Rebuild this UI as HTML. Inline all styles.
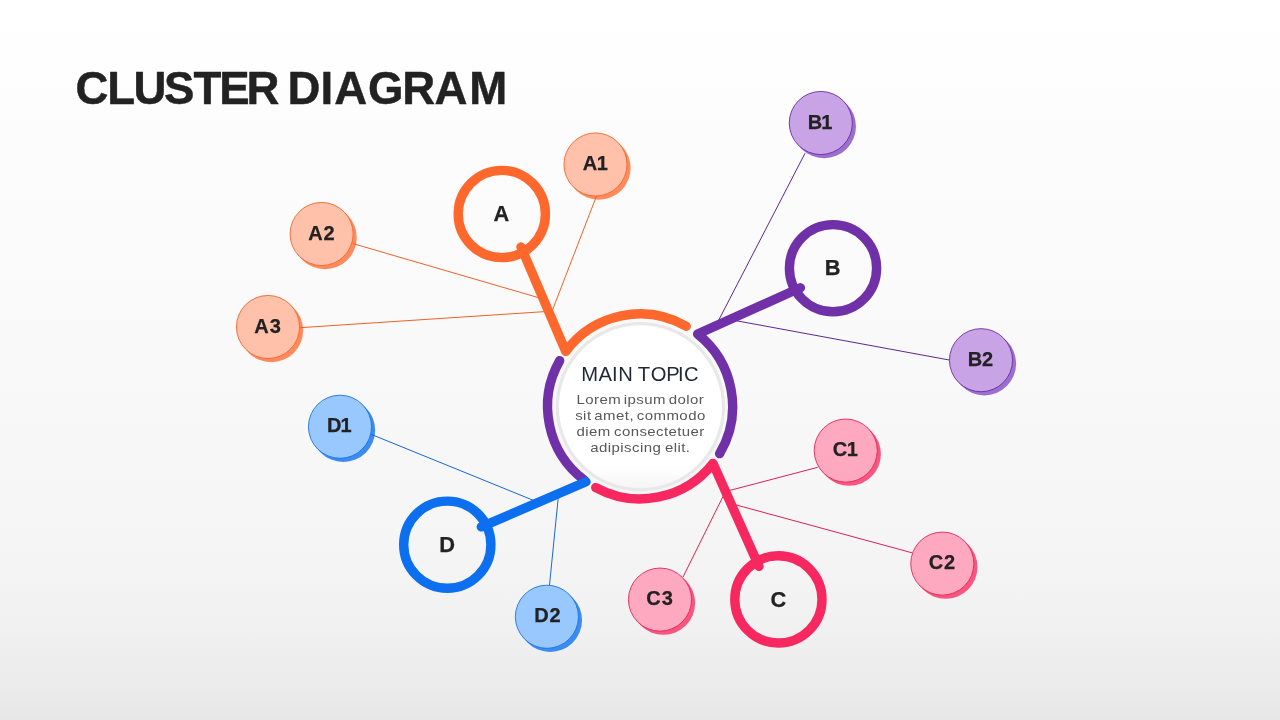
<!DOCTYPE html>
<html lang="en">
<head>
<meta charset="utf-8">
<title>Cluster Diagram</title>
<style>
html,body{margin:0;padding:0;}
body{width:1280px;height:720px;overflow:hidden;position:relative;
 background:linear-gradient(to bottom,#ffffff 0%,#ffffff 2%,#fdfdfd 14%,#fbfbfb 32%,#f9f9f9 50%,#f7f7f7 63%,#f5f5f5 75%,#f2f2f2 85%,#eeeeee 91%,#ebebeb 96%,#e7e7e7 100%);
 font-family:"Liberation Sans",sans-serif;}
svg{position:absolute;left:0;top:0;display:block;will-change:transform;}
svg text{font-family:"Liberation Sans",sans-serif;text-anchor:middle;font-kerning:none;}
.tt{font-size:45.6px;font-weight:700;fill:#222;stroke:#222;stroke-width:0.45px;stroke-linejoin:round;text-anchor:start;}
.nl{font-size:20px;font-weight:700;fill:#222;stroke:#222;stroke-width:0.25px;text-anchor:start;}
.rl{font-size:21.8px;font-weight:700;fill:#222;stroke:#222;stroke-width:0.25px;text-anchor:start;}
.mt{font-size:20.2px;fill:#1f2933;text-anchor:start;}
.bt{font-size:12.5px;fill:#585858;text-anchor:start;}
</style>
</head>
<body>
<svg width="1280" height="720" viewBox="0 0 1280 720" role="img" aria-label="Cluster diagram">
<defs><linearGradient id="dg" x1="0" y1="0" x2="0" y2="1"><stop offset="0" stop-color="#fff"/><stop offset="0.86" stop-color="#fff"/><stop offset="1" stop-color="#f4f4f4"/></linearGradient></defs>
<circle cx="598.8" cy="167.9" r="31.85" fill="#ff8a5c"/>
<circle cx="324.9" cy="237.4" r="31.85" fill="#ff8a5c"/>
<circle cx="271.3" cy="330.4" r="31.85" fill="#ff8a5c"/>
<circle cx="824.1" cy="126.4" r="31.85" fill="#9a6fd0"/>
<circle cx="984.3" cy="363.6" r="31.85" fill="#9a6fd0"/>
<circle cx="849.05" cy="454" r="31.85" fill="#f8557f"/>
<circle cx="945.6" cy="567" r="31.85" fill="#f8557f"/>
<circle cx="663.3" cy="603" r="31.85" fill="#f8557f"/>
<circle cx="343.3" cy="430.15" r="31.85" fill="#3b8cf0"/>
<circle cx="550.2" cy="620.15" r="31.85" fill="#3b8cf0"/>
<line x1="596.3" y1="196.5" x2="549.8" y2="317" stroke="#ee6128" stroke-width="1"/>
<line x1="353" y1="243.6" x2="539" y2="297.8" stroke="#ee6128" stroke-width="1"/>
<line x1="300" y1="327.7" x2="545" y2="311.6" stroke="#ee6128" stroke-width="1"/>
<line x1="805" y1="153.3" x2="717.5" y2="322.5" stroke="#5e2692" stroke-width="1"/>
<line x1="949.2" y1="360" x2="735" y2="320.5" stroke="#5e2692" stroke-width="1"/>
<line x1="817.75" y1="467.3" x2="728" y2="490.9" stroke="#dc2153" stroke-width="1"/>
<line x1="912" y1="552.8" x2="736" y2="504.9" stroke="#dc2153" stroke-width="1"/>
<line x1="683" y1="577" x2="724.5" y2="493.5" stroke="#dc2153" stroke-width="1"/>
<line x1="371.25" y1="434.4" x2="535" y2="501" stroke="#1468d6" stroke-width="1"/>
<line x1="549.5" y1="585" x2="558.3" y2="497" stroke="#1468d6" stroke-width="1"/>
<circle cx="640.4" cy="406.8" r="83.1" fill="url(#dg)" stroke="#e8e8e8" stroke-width="3.2"/>
<circle cx="501.8" cy="214.0" r="43.6" fill="none" stroke="#ff682c" stroke-width="9.4"/>
<path d="M521.00,247.00 L565.74,351.38 A92.5,92.5 0 0 1 686.21,326.21" fill="none" stroke="#ff682c" stroke-width="9.4" stroke-linecap="round" stroke-linejoin="round"/>
<circle cx="833.0" cy="268.2" r="43.6" fill="none" stroke="#7030a8" stroke-width="9.4"/>
<path d="M800.40,287.80 L697.68,334.01 A92.5,92.5 0 0 1 719.64,453.63" fill="none" stroke="#7030a8" stroke-width="9.4" stroke-linecap="round" stroke-linejoin="round"/>
<circle cx="778.4" cy="599.4" r="43.6" fill="none" stroke="#f7275f" stroke-width="9.4"/>
<path d="M759.00,566.40 L712.99,463.35 A92.5,92.5 0 0 1 595.82,487.61" fill="none" stroke="#f7275f" stroke-width="9.4" stroke-linecap="round" stroke-linejoin="round"/>
<circle cx="447.3" cy="544.7" r="43.6" fill="none" stroke="#0b6ff0" stroke-width="9.4"/>
<path d="M584.43,480.27 A92.5,92.5 0 0 1 559.71,360.64" fill="none" stroke="#7030a8" stroke-width="9.4" stroke-linecap="round"/>
<path d="M481.30,526.90 L586.00,481.80" fill="none" stroke="#0b6ff0" stroke-width="9.4" stroke-linecap="round"/>
<circle cx="595.5" cy="164.5" r="31.55" fill="#ffc1aa" stroke="#f0652e" stroke-width="0.9"/>
<text x="582.69 596.65" y="170.20" class="nl">A1</text>
<circle cx="321.6" cy="234" r="31.55" fill="#ffc1aa" stroke="#f0652e" stroke-width="0.9"/>
<text x="308.23 323.55" y="239.70" class="nl">A2</text>
<circle cx="268" cy="327" r="31.55" fill="#ffc1aa" stroke="#f0652e" stroke-width="0.9"/>
<text x="254.27 269.83" y="332.70" class="nl">A3</text>
<circle cx="820.8" cy="123" r="31.55" fill="#c8a4e6" stroke="#6c2c9e" stroke-width="0.9"/>
<text x="807.76 821.34" y="128.70" class="nl">B1</text>
<circle cx="981" cy="360.2" r="31.55" fill="#c8a4e6" stroke="#6c2c9e" stroke-width="0.9"/>
<text x="967.80 981.94" y="365.90" class="nl">B2</text>
<circle cx="845.75" cy="450.6" r="31.55" fill="#ffa9c0" stroke="#e42459" stroke-width="0.9"/>
<text x="832.79 846.73" y="456.30" class="nl">C1</text>
<circle cx="942.3" cy="563.6" r="31.55" fill="#ffa9c0" stroke="#e42459" stroke-width="0.9"/>
<text x="928.78 944.08" y="569.30" class="nl">C2</text>
<circle cx="660" cy="599.6" r="31.55" fill="#ffa9c0" stroke="#e42459" stroke-width="0.9"/>
<text x="646.32 661.86" y="605.30" class="nl">C3</text>
<circle cx="340" cy="426.75" r="31.55" fill="#99c8ff" stroke="#1a74e2" stroke-width="0.9"/>
<text x="326.93 340.57" y="432.45" class="nl">D1</text>
<circle cx="546.9" cy="616.75" r="31.55" fill="#99c8ff" stroke="#1a74e2" stroke-width="0.9"/>
<text x="534.36 549.38" y="622.45" class="nl">D2</text>
<text x="493.44" y="221.0" class="rl">A</text>
<text x="824.79" y="275.0" class="rl">B</text>
<text x="770.48" y="606.5" class="rl">C</text>
<text x="439.36" y="552.0" class="rl">D</text>
<text x="581.14 598.51 612.04 618.25 627.97 637.69 650.70 666.22 678.04 684.08" y="380.9" class="mt">MAIN TOPIC</text>
<text x="480.34" y="403.75" class="bt" transform="scale(1.2,1)" style="letter-spacing:0.369px;word-spacing:-1.587px">Lorem ipsum dolor</text>
<text x="479.29" y="419.75" class="bt" transform="scale(1.2,1)" style="letter-spacing:0.398px;word-spacing:-1.695px">sit amet, commodo</text>
<text x="480.44" y="435.75" class="bt" transform="scale(1.2,1)" style="letter-spacing:0.333px;word-spacing:-0.946px">diem consectetuer</text>
<text x="491.82" y="451.75" class="bt" transform="scale(1.2,1)" style="letter-spacing:0.366px;word-spacing:-0.730px">adipiscing elit.</text>
<text x="75.52 107.20 133.46 163.93 193.55 219.37 246.45 267.01 287.57 320.47 334.37 367.94 402.23 434.59 469.21" y="103.8" class="tt">CLUSTER DIAGRAM</text>
</svg>
</body>
</html>
